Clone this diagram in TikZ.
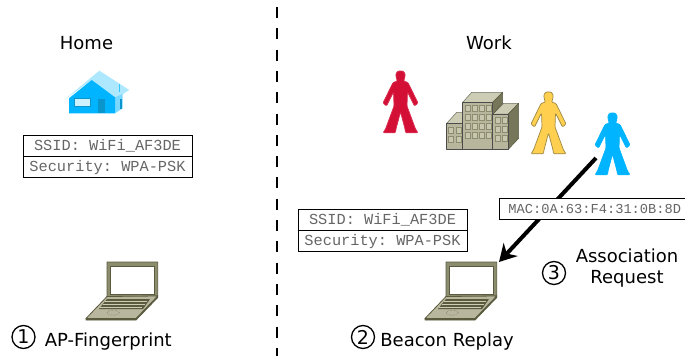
\documentclass[tikz,border=0pt]{standalone}
\usepackage{fontspec}
\setmainfont{DejaVu Sans}
\setmonofont{Liberation Mono}
\usepackage{xcolor}
\usetikzlibrary{arrows.meta, positioning}

\definecolor{wifiblue}{HTML}{00B4FF}
\definecolor{wifilight}{HTML}{AEE8FF}
\definecolor{wifidoor}{HTML}{0A95CC}
\definecolor{wifired}{HTML}{D40F36}
\definecolor{wifiyellow}{HTML}{FFCF50}
\definecolor{olivedark}{HTML}{5A5A3E}
\definecolor{olivemid}{HTML}{8C8C6E}
\definecolor{olivelight}{HTML}{B8B79E}
\definecolor{olivepale}{HTML}{CDCDB6}
\definecolor{olivewall}{HTML}{76765A}

\tikzset{
  infobox/.style={draw, fill=white, line width=0.8pt, inner sep=0pt, minimum height=21pt,
    text=black!60, font=\ttfamily\fontsize{15.3}{15.3}\selectfont},
  caption/.style={font=\fontsize{18}{21}\selectfont, inner sep=0pt, align=center},
  stepmark/.style={draw, circle, line width=1.3pt, minimum size=23pt, inner sep=0pt,
    font=\fontsize{19}{19}\selectfont},
  person/.pic={
    \path[pic actions, line join=round, line width=0.7pt, rounded corners=1pt]
      (-2.5,0) -- (2.5,0) -- (4.8,3) -- (4,8) -- (3,10) -- (7.5,11.5) -- (17.5,32) -- (14,35)
      -- (7,21) -- (6.5,35) -- (15,58) -- (17.5,61.8) -- (5,61.8) -- (4.5,58) -- (0,41)
      -- (-4.5,58) -- (-5,61.8) -- (-17.5,61.8) -- (-15,58) -- (-6.5,35) -- (-7,21) -- (-14,35)
      -- (-17.5,32) -- (-7.5,11.5) -- (-3,10) -- (-4,8) -- (-4.8,3) -- cycle;
  },
  laptop/.pic={
    \draw[olivedark, fill=olivemid, line width=0.8pt, line join=round]
      (21,0) -- (71.7,0) -- (71.7,34) -- (21,36) -- cycle;
    \draw[olivedark, fill=white, line width=0.6pt] (24,4) rectangle (68.3,32);
    \draw[olivedark, fill=olivedark, line width=0.8pt, line join=round]
      (0,56.5) -- (0,58) -- (50,58) -- (71.7,35.5) -- (71.7,34) -- (50,56.5) -- cycle;
    \draw[olivedark, fill=olivelight, line width=0.8pt, line join=round]
      (0,56.5) -- (50,56.5) -- (71.7,34) -- (21,34.5) -- cycle;
    \fill[olivedark] (21,37) -- (64,37) -- (57,47) -- (13,47) -- cycle;
    \foreach \keyrow/\keyshift in {39.5/19, 42.5/16.5, 45.5/14}
      \draw[olivepale, line width=0.7pt] (\keyshift,\keyrow) -- ++(42,0);
    \draw[olivedark, line width=0.4pt, densely dotted] (27.3,50.7) ellipse (6 and 2.5);
  },
  building/.pic={
    \begin{scope}[line width=0.5pt, line join=round]
    % left block
    \draw[olivelight!60!black, fill=olivepale] (0,11) -- (10,0) -- (16,0) -- (16,11) -- cycle;
    \draw[black!70, fill=olivelight] (0,11) rectangle (16,37);
    % right block
    \draw[olivelight!60!black, fill=olivepale] (46,2) -- (57,-9) -- (72,-9) -- (61.6,1.7) -- cycle;
    \draw[olivedark, fill=olivewall] (61.6,1.7) -- (72,-9) -- (72,26) -- (61.6,37) -- cycle;
    \draw[black!70, fill=olivelight] (46,1.7) rectangle (61.6,37);
    % main block
    \draw[olivelight!60!black, fill=olivepale] (16,-10) -- (25,-20) -- (56,-20) -- (46,-10) -- cycle;
    \draw[olivedark, fill=olivewall] (46,-10) -- (56,-20) -- (56,-9) -- (46,2) -- cycle;
    \draw[black!70, fill=olivelight] (16,-10) rectangle (46,37);
    \end{scope}
    \foreach \wx in {0,1,2,3}
      \foreach \wy in {0,1,2,3}
        \draw[olivemid, fill=olivepale!70!olivelight, line width=0.4pt]
          (18.5+7*\wx,-7+9*\wy) rectangle ++(5,6);
    \foreach \wx in {0,1}
      \foreach \wy in {0,1}
        \draw[olivemid, fill=olivepale!70!olivelight, line width=0.4pt]
          (1.8+7.5*\wx,14.5+9.5*\wy) rectangle ++(5,6);
    \foreach \wx in {0,1}
      \foreach \wy in {0,1,2}
        \draw[olivemid, fill=olivepale!70!olivelight, line width=0.4pt]
          (48+7.5*\wx,5+9*\wy) rectangle ++(5,6);
  },
  house/.pic={
    \fill[wifilight] (0,28.6) -- (34.3,0) -- (64.3,19.3) -- (50,28.5) -- (26.7,9.3) -- cycle;
    \fill[wifilight!70!wifiblue] (50,26.6) -- (57.7,23.3) -- (57.7,37.6) -- (50,42.6) -- cycle;
    \fill[wifiblue] (4,27.6) -- (26.7,9.3) -- (50,26.6) -- (50,42.6) -- (4,42.6) -- cycle;
    \draw[wifidoor, fill=wifilight!60!white, line width=0.7pt] (9,28) rectangle (25.7,36);
    \fill[wifidoor] (32.7,28.3) rectangle (40,42.6);
    \fill[wifiblue!70!wifilight] (53.5,13.5) rectangle (55,21);
    \fill[wifidoor] (54.5,28) rectangle (56.5,38);
  },
}

\begin{document}
\begin{tikzpicture}[x=1pt, y=-1pt]
\useasboundingbox (0,0) rectangle (685,356);

\coordinate (divtop) at (277,0);
\coordinate (divbottom) at (277,356);
\draw[line width=1.8pt, dash pattern=on 11pt off 10.3pt, dash phase=14.3pt] (divtop) -- (divbottom);

% home side
\node (home) [caption] at (86.5,43) {Home};
\pic at (65,70.7) {house};
\node (ssidhome) [infobox, minimum width=169pt] at (107.5,145.5) {SSID: WiFi\_AF3DE};
\node (sechome) [infobox, minimum width=169pt, below=0pt of ssidhome.south, anchor=north] {Security: WPA-PSK};
\pic at (86,262) {laptop};
\node (one) [stepmark] at (23.5,337) {1};
\node (fingerprint) [caption, right=9pt of one, yshift=-4.5pt] {AP-Fingerprint};

% work side
\node (work) [caption] at (489,43) {Work};
\pic[fill=wifired, draw=wifired!85!white] at (400.5,71) {person};
\pic at (446.7,112.3) {building};
\pic[fill=wifiyellow, draw=olivedark!60!wifiyellow] at (548.5,92) {person};
\pic[fill=wifiblue, draw=wifiblue] at (612.5,113) {person};
\node (ssidwork) [infobox, minimum width=169pt] at (382.5,219.5) {SSID: WiFi\_AF3DE};
\node (secwork) [infobox, minimum width=169pt, below=0pt of ssidwork.south, anchor=north] {Security: WPA-PSK};
\pic at (425,262) {laptop};
\node (two) [stepmark] at (363,337) {2};
\node (beacon) [caption, right=5pt of two, yshift=-4.5pt] {Beacon Replay};

\coordinate (client) at (596,158);
\coordinate (workpc) at (499,262);
\draw[-{Stealth[length=17pt, width=19pt]}, line width=4pt] (client) -- (workpc);
\node (mac) [infobox, minimum width=186pt, text width=186pt, align=center,
  font=\ttfamily\fontsize{13.7}{13.7}\selectfont] at (592,208.5) {\hspace*{5.5pt}MAC:0A:63:F4:31:0B:8D};

\node (three) [stepmark] at (554,273) {3};
\node (assoc) [caption] at (627,268) {Association\\Request};
\end{tikzpicture}
\end{document}
